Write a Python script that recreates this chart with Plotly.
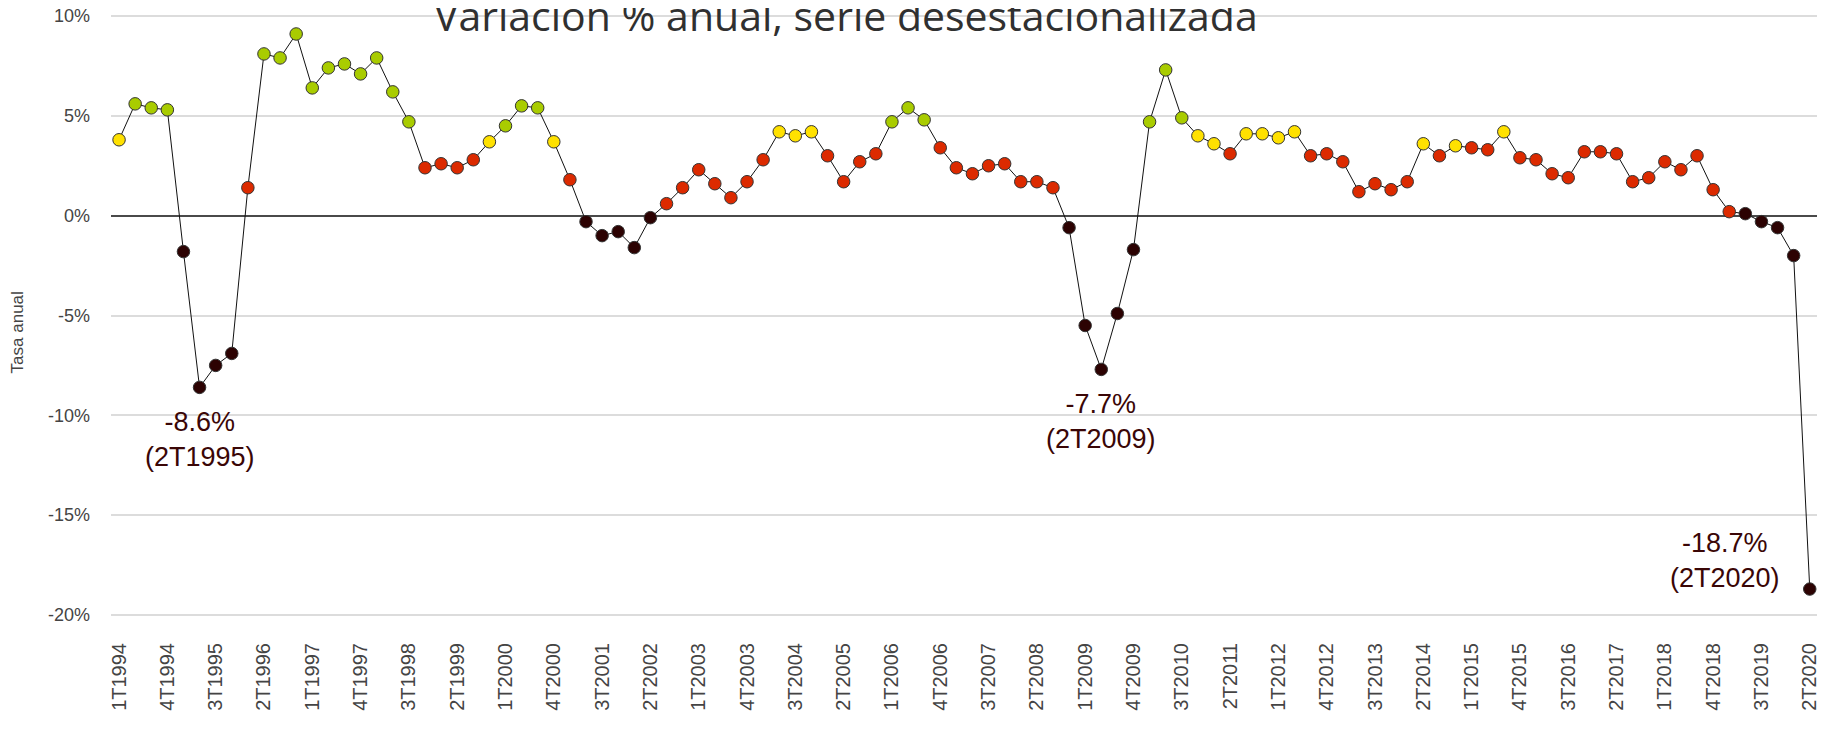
import plotly.graph_objects as go

# ---- data ----
years = list(range(1994, 2021))
quarters = [f"{q}T{y}" for y in years for q in (1, 2, 3, 4)][:106]

values = [
    3.8, 5.6, 5.4, 5.3,      # 1994
    -1.8, -8.6, -7.5, -6.9,  # 1995
    1.4, 8.1, 7.9, 9.1,      # 1996
    6.4, 7.4, 7.6, 7.1,      # 1997
    7.9, 6.2, 4.7, 2.4,      # 1998
    2.6, 2.4, 2.8, 3.7,      # 1999
    4.5, 5.5, 5.4, 3.7,      # 2000
    1.8, -0.3, -1.0, -0.8,   # 2001
    -1.6, -0.1, 0.6, 1.4,    # 2002
    2.3, 1.6, 0.9, 1.7,      # 2003
    2.8, 4.2, 4.0, 4.2,      # 2004
    3.0, 1.7, 2.7, 3.1,      # 2005
    4.7, 5.4, 4.8, 3.4,      # 2006
    2.4, 2.1, 2.5, 2.6,      # 2007
    1.7, 1.7, 1.4, -0.6,     # 2008
    -5.5, -7.7, -4.9, -1.7,  # 2009
    4.7, 7.3, 4.9, 4.0,      # 2010
    3.6, 3.1, 4.1, 4.1,      # 2011
    3.9, 4.2, 3.0, 3.1,      # 2012
    2.7, 1.2, 1.6, 1.3,      # 2013
    1.7, 3.6, 3.0, 3.5,      # 2014
    3.4, 3.3, 4.2, 2.9,      # 2015
    2.8, 2.1, 1.9, 3.2,      # 2016
    3.2, 3.1, 1.7, 1.9,      # 2017
    2.7, 2.3, 3.0, 1.3,      # 2018
    0.2, 0.1, -0.3, -0.6,    # 2019
    -2.0, -18.7,             # 2020
]

tick_labels = quarters[::3]
y_tickvals = [10, 5, 0, -5, -10, -15, -20]
y_ticktext = ["10%", "5%", "0%", "-5%", "-10%", "-15%", "-20%"]

highlight = ["2T1995", "2T2009", "2T2020"]

title_text = "Variación % anual, serie desestacionalizada"
ytitle = "Tasa anual"

# ---- style ----
def colour(v):
    if v < 0.15:
        return "#2c0202"
    if v < 3.5:
        return "#dc2a00"
    if v < 4.5:
        return "#ffe100"
    return "#a9cc00"

marker_colors = [colour(v) for v in values]
ann_font = dict(family="Liberation Sans, Arial", size=27, color="#3a0606")

fig = go.Figure()
fig.add_trace(go.Scatter(
    x=quarters, y=values, mode="lines+markers",
    line=dict(color="#111111", width=1),
    marker=dict(size=12.5, color=marker_colors, line=dict(color="#333333", width=1)),
    showlegend=False, hoverinfo="x+y", cliponaxis=False,
))

for lab in highlight:
    i = quarters.index(lab)
    v = values[i]
    txt = f"{v:.1f}%<br>({lab})"
    if lab == "2T2020":
        fig.add_annotation(x=lab, y=v, text=txt, showarrow=False,
                           xanchor="right", yanchor="bottom", xshift=-28, yshift=-6,
                           align="center", font=ann_font)
    else:
        fig.add_annotation(x=lab, y=v, text=txt, showarrow=False,
                           xanchor="center", yanchor="top", yshift=-18,
                           align="center", font=ann_font)

fig.add_annotation(xref="paper", yref="paper", x=0.431, y=1.0, yshift=-1,
                   xanchor="center", yanchor="middle", text=title_text, showarrow=False,
                   font=dict(family="Open Sans", size=41, color="#303030"))

fig.add_annotation(xref="paper", yref="paper", x=-0.0551, y=0.472,
                   xanchor="center", yanchor="middle", textangle=-90,
                   text=ytitle, showarrow=False,
                   font=dict(family="Liberation Sans, Arial", size=17, color="#444444"))

fig.update_layout(
    width=1823, height=721,
    margin=dict(l=103, r=14, t=6, b=112, autoexpand=False),
    paper_bgcolor="white", plot_bgcolor="white",
    font=dict(family="Liberation Sans, Arial", color="#444444"),
    xaxis=dict(
        type="category", range=[-0.5, 105.45], automargin=False,
        tickmode="array", tickvals=tick_labels, ticktext=tick_labels,
        tickangle=-90, tickfont=dict(size=20, color="#444444"),
        showgrid=False, showline=False, ticks="", ticklabelstandoff=21,
        ticklabeloverflow="allow",
    ),
    yaxis=dict(
        range=[-20.1, 10.1], automargin=False,
        tickmode="array", tickvals=y_tickvals, ticktext=y_ticktext,
        tickfont=dict(size=18, color="#444444"),
        showgrid=True, gridcolor="#dcdcdc", gridwidth=1.5,
        zeroline=True, zerolinecolor="#4a4a4a", zerolinewidth=1.5,
        showline=False, ticks="", ticklabelstandoff=20,
        ticklabeloverflow="allow",
    ),
)

fig.write_html("out.html")
